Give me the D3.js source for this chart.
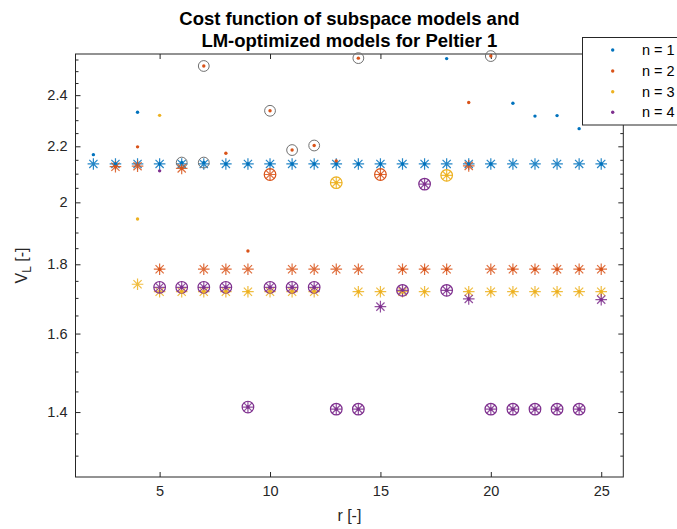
<!DOCTYPE html>
<html><head><meta charset="utf-8">
<script src="https://cdn.jsdelivr.net/npm/d3@7"></script>
<style>
html,body{margin:0;padding:0;background:#fff;}
svg{display:block;font-family:"Liberation Sans",Arial,Helvetica,sans-serif;}
</style></head>
<body>
<svg id="chart" width="677" height="529"></svg>
<script>
// ---------- data ----------
const seriesNames = ["n = 1", "n = 2", "n = 3", "n = 4"];
const colors = ["#0072BD", "#D95319", "#EDB120", "#7E2F8E"];

// n = 1
const rN1   = [2,3,4,5,6,7,8,9,10,11,12,13,14,15,16,17,18,19,20,21,22,23,24,25];
const lmN1  = [2.135,2.135,2.135,2.135,2.135,2.135,2.135,2.135,2.135,2.135,2.135,2.135,2.135,2.135,2.135,2.135,2.135,2.135,2.135,2.135,2.135,2.135,2.135,2.135];
const subN1 = [2.169,2.135,2.331,2.135,2.140,2.140,2.135,2.135,2.135,2.135,2.135,2.135,2.135,2.135,2.135,2.135,2.554,2.135,2.135,2.367,2.316,2.318,2.267,2.135];
const unstableSubN1 = [6,7];
const circledLmN1 = [];

// n = 2
const rN2   = [3,4,5,6,7,8,9,10,11,12,13,14,15,16,17,18,19,20,21,22,23,24,25];
const lmN2  = [2.125,2.127,1.785,2.119,1.785,1.785,1.785,2.097,1.785,1.785,1.785,1.785,2.097,1.785,1.785,1.785,2.128,1.785,1.785,1.785,1.785,1.785,1.785];
const subN2 = [2.125,2.198,1.785,2.119,2.522,2.174,1.841,2.337,2.186,2.203,2.146,2.556,2.097,1.785,1.785,1.785,2.370,2.565,1.785,1.785,1.785,1.785,1.785];
const unstableSubN2 = [7,10,11,12,14,20];
const circledLmN2 = [10,15];

// n = 3
const rN3   = [4,5,6,7,8,9,10,11,12,13,14,15,16,17,18,19,20,21,22,23,24,25];
const lmN3  = [1.740,1.718,1.718,1.718,1.718,1.718,1.718,1.718,1.718,2.068,1.718,1.718,1.718,1.718,2.094,1.718,1.718,1.718,1.718,1.718,1.718,1.718];
const subN3 = [1.944,2.319,1.718,1.718,1.718,1.718,1.718,1.718,1.718,2.068,1.718,1.718,1.718,1.718,2.094,1.718,1.718,1.718,1.718,1.718,1.718,1.718];
const unstableSubN3 = [];
const circledLmN3 = [13,18];

// n = 4
const rN4   = [5,6,7,8,9,10,11,12,13,14,15,16,17,18,19,20,21,22,23,24,25];
const lmN4  = [1.731,1.731,1.731,1.731,1.412,1.731,1.731,1.731,1.407,1.407,1.675,1.722,2.063,1.722,1.697,1.407,1.407,1.407,1.407,1.407,1.695];
const subN4 = [2.110,1.731,1.731,1.731,1.412,1.731,1.731,1.731,1.407,1.407,1.675,1.722,2.063,1.722,1.697,1.407,1.407,1.407,1.407,1.407,1.695];
const unstableSubN4 = [];
const circledLmN4 = [5,6,7,8,9,10,11,12,13,14,16,17,18,20,21,22,23,24];

const xTicks = [5,10,15,20,25];
const yTicks = [1.4,1.6,1.8,2,2.2,2.4];
const yMinorTicks = [1.3,1.35,1.45,1.5,1.55,1.65,1.7,1.75,1.85,1.9,1.95,2.05,2.1,2.15,2.25,2.3,2.35,2.45,2.5,2.55];

const titleLines = ["Cost function of subspace models and", "LM-optimized models for Peltier 1"];
const xLabel = "r [-]";

// ---------- layout ----------
const L = 75.5, R = 623.3, T = 54, B = 477;
const x = d3.scaleLinear().domain([1.19, 26]).range([L, R]);
const y = d3.scaleLog().domain([1.2536, 2.574]).range([B, T]);
const axisColor = "#262626";

const svg = d3.select("#chart");

const groups = [
  {r:rN1, lm:lmN1, sub:subN1, uns:unstableSubN1, circ:circledLmN1},
  {r:rN2, lm:lmN2, sub:subN2, uns:unstableSubN2, circ:circledLmN2},
  {r:rN3, lm:lmN3, sub:subN3, uns:unstableSubN3, circ:circledLmN3},
  {r:rN4, lm:lmN4, sub:subN4, uns:unstableSubN4, circ:circledLmN4}
];

// ---------- axes ----------
function styleAxis(g){
  g.select(".domain").remove();
  g.selectAll(".tick line").attr("stroke", axisColor).attr("stroke-width", 1);
  g.selectAll(".tick text").attr("fill", axisColor).style("font-size","14.5px").style("font-family","'Liberation Sans',Arial,sans-serif");
}
svg.append("g").attr("transform",`translate(0,${B})`)
  .call(d3.axisBottom(x).tickValues(xTicks).tickSizeInner(-5).tickSizeOuter(0).tickPadding(9).tickFormat(d=>String(d)))
  .call(styleAxis);
svg.append("g").attr("transform",`translate(0,${T})`)
  .call(d3.axisTop(x).tickValues(xTicks).tickSizeInner(-5).tickSizeOuter(0).tickFormat(""))
  .call(styleAxis);
svg.append("g").attr("transform",`translate(${L},0)`)
  .call(d3.axisLeft(y).tickValues(yTicks).tickSizeInner(-5).tickSizeOuter(0).tickPadding(8).tickFormat(d=>String(d)))
  .call(styleAxis);
svg.append("g").attr("transform",`translate(${L},0)`)
  .call(d3.axisLeft(y).tickValues(yMinorTicks).tickSizeInner(-3).tickSizeOuter(0).tickFormat(""))
  .call(styleAxis);
svg.append("g").attr("transform",`translate(${R},0)`)
  .call(d3.axisRight(y).tickValues(yTicks).tickSizeInner(-5).tickSizeOuter(0).tickFormat(""))
  .call(styleAxis);
svg.append("g").attr("transform",`translate(${R},0)`)
  .call(d3.axisRight(y).tickValues(yMinorTicks).tickSizeInner(-3).tickSizeOuter(0).tickFormat(""))
  .call(styleAxis);
svg.append("rect").attr("x",L).attr("y",T).attr("width",R-L).attr("height",B-T)
  .attr("fill","none").attr("stroke",axisColor).attr("stroke-width",1);

// ---------- marks ----------
const AS = 5.8, AD = 4.1;
const asteriskPath = `M${-AS},0H${AS}M0,${-AS}V${AS}M${-AD},${-AD}L${AD},${AD}M${-AD},${AD}L${AD},${-AD}`;

const marks = svg.append("g");
groups.forEach((g,i)=>{
  const pts = g.r.map((rv,k)=>({r:rv, v:g.lm[k]}));
  marks.append("g").selectAll("path").data(pts).join("path")
    .attr("transform",d=>`translate(${x(d.r)},${y(d.v)})`)
    .attr("d",asteriskPath).attr("fill","none")
    .attr("stroke",colors[i]).attr("stroke-width",1.2).attr("stroke-opacity",0.85);
  const cpts = pts.filter(d=>g.circ.includes(d.r));
  marks.append("g").selectAll("circle").data(cpts).join("circle")
    .attr("cx",d=>x(d.r)).attr("cy",d=>y(d.v)).attr("r",5.8)
    .attr("fill","none").attr("stroke",colors[i]).attr("stroke-width",1.2);
});
groups.forEach((g,i)=>{
  const pts = g.r.map((rv,k)=>({r:rv, v:g.sub[k]}));
  marks.append("g").selectAll("circle").data(pts).join("circle")
    .attr("cx",d=>x(d.r)).attr("cy",d=>y(d.v)).attr("r",1.7)
    .attr("fill",colors[i]);
  const upts = pts.filter(d=>g.uns.includes(d.r));
  marks.append("g").selectAll("circle").data(upts).join("circle")
    .attr("cx",d=>x(d.r)).attr("cy",d=>y(d.v)).attr("r",5.4)
    .attr("fill","none").attr("stroke","#707070").attr("stroke-width",1);
});

// ---------- texts ----------
svg.append("text").attr("x",(L+R)/2).attr("y",24.5).attr("text-anchor","middle")
  .attr("font-weight","bold").attr("font-size","18.5px").attr("fill","#000").text(titleLines[0]);
svg.append("text").attr("x",(L+R)/2).attr("y",46.5).attr("text-anchor","middle")
  .attr("font-weight","bold").attr("font-size","18.5px").attr("fill","#000").text(titleLines[1]);
svg.append("text").attr("x",(L+R)/2).attr("y",521).attr("text-anchor","middle")
  .attr("font-size","16px").attr("fill",axisColor).text(xLabel);
const yl = svg.append("text").attr("transform",`translate(27,${(T+B)/2}) rotate(-90)`)
  .attr("text-anchor","middle").attr("font-size","16px").attr("fill",axisColor);
yl.append("tspan").text("V");
yl.append("tspan").attr("font-size","12px").attr("dy","4").text("L");
yl.append("tspan").attr("dy","-4").text(" [-]");

// ---------- legend ----------
const lg = svg.append("g");
lg.append("rect").attr("x",582.5).attr("y",37.5).attr("width",120).attr("height",87.5)
  .attr("fill","#fff").attr("stroke",axisColor).attr("stroke-width",1);
const legendY = [50, 71, 91.7, 112.3];
seriesNames.forEach((s,i)=>{
  lg.append("circle").attr("cx",612.7).attr("cy",legendY[i]).attr("r",1.7).attr("fill",colors[i]);
  lg.append("text").attr("x",642).attr("y",legendY[i]+5).attr("font-size","14.5px")
    .attr("fill","#000").text(s);
});
</script>
</body></html>
